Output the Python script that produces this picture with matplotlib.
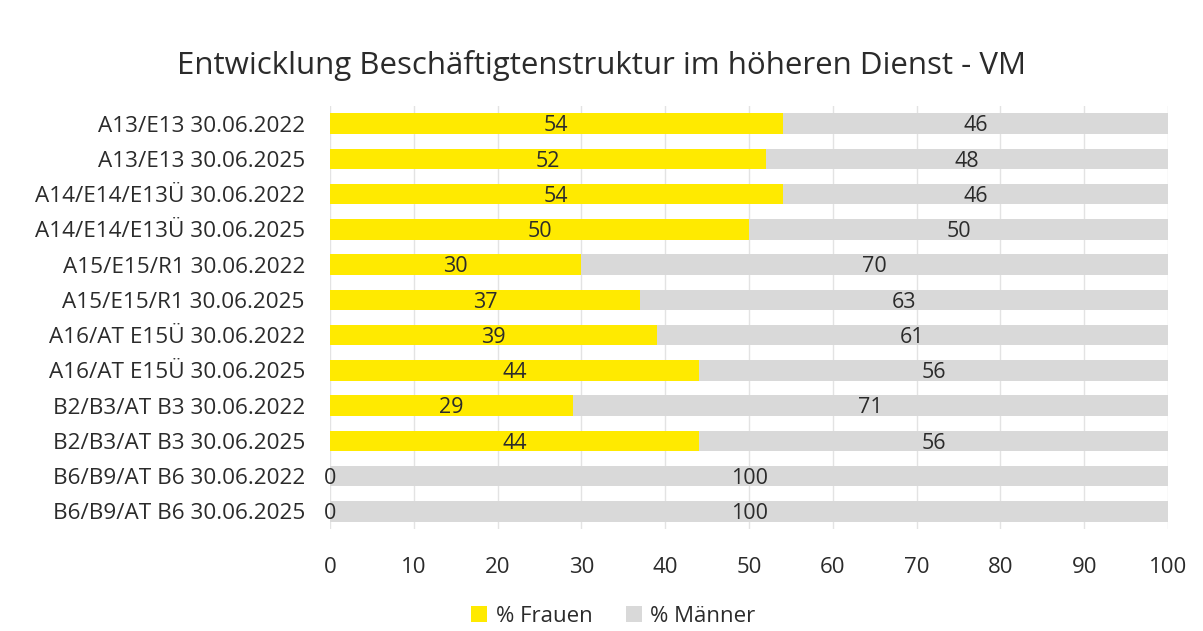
import numpy as np
import matplotlib.pyplot as plt

# Kategorien (von oben nach unten)
kategorien = [
    "A13/E13 30.06.2022",
    "A13/E13 30.06.2025",
    "A14/E14/E13Ü 30.06.2022",
    "A14/E14/E13Ü 30.06.2025",
    "A15/E15/R1 30.06.2022",
    "A15/E15/R1 30.06.2025",
    "A16/AT E15Ü 30.06.2022",
    "A16/AT E15Ü 30.06.2025",
    "B2/B3/AT B3 30.06.2022",
    "B2/B3/AT B3 30.06.2025",
    "B6/B9/AT B6 30.06.2022",
    "B6/B9/AT B6 30.06.2025",
]
frauen = [54, 52, 54, 50, 30, 37, 39, 44, 29, 44, 0, 0]
maenner = [46, 48, 46, 50, 70, 63, 61, 56, 71, 56, 100, 100]

gelb = "#FFEA00"
grau = "#D9D9D9"
textfarbe = "#2b2b2b"

plt.rcParams['font.family'] = ['Open Sans', 'DejaVu Sans']

fig = plt.figure(figsize=(12.03, 6.31), dpi=100)
ax = fig.add_axes([0.2743, 0.1616, 0.6967, 0.6704])

y = np.arange(len(kategorien))
f = np.array(frauen)
m = np.array(maenner)
ax.barh(y, f, height=0.58, color=gelb, label="% Frauen", zorder=2)
ax.barh(y, m, left=f, height=0.58, color=grau, label="% Männer", zorder=2)

# Werte in die Balken schreiben
for i in range(len(y)):
    ax.text(f[i] / 2.0, y[i] + 0.06, str(f[i]), ha='center', va='center', fontsize=15.5, color=textfarbe, zorder=3)
    ax.text(f[i] + m[i] / 2.0, y[i] + 0.06, str(m[i]), ha='center', va='center', fontsize=15.5, color=textfarbe, zorder=3)

ax.set_ylim(len(kategorien) - 0.5, -0.5)
ax.set_xlim(0, 100)
ax.set_yticks(y)
ax.set_yticklabels(kategorien, fontsize=16.2, color=textfarbe)
ax.set_xticks(np.arange(0, 101, 10))
ax.tick_params(axis='x', labelsize=16, colors=textfarbe, length=0, pad=20)
ax.tick_params(axis='y', length=0, pad=18)
ax.xaxis.grid(True, color="#E3E3E3", linewidth=1, zorder=0)
ax.set_axisbelow(True)
for s in ax.spines.values():
    s.set_visible(False)

fig.suptitle("Entwicklung Beschäftigtenstruktur im höheren Dienst - VM", fontsize=22.5, color=textfarbe, y=0.92)

fig.legend(loc='lower center', ncol=2, frameon=False, fontsize=16, bbox_to_anchor=(0.51, -0.025),
           handlelength=0.7, handleheight=0.7, columnspacing=1.5, handletextpad=0.4, labelcolor=textfarbe)

fig.savefig("out.png", dpi=100)
